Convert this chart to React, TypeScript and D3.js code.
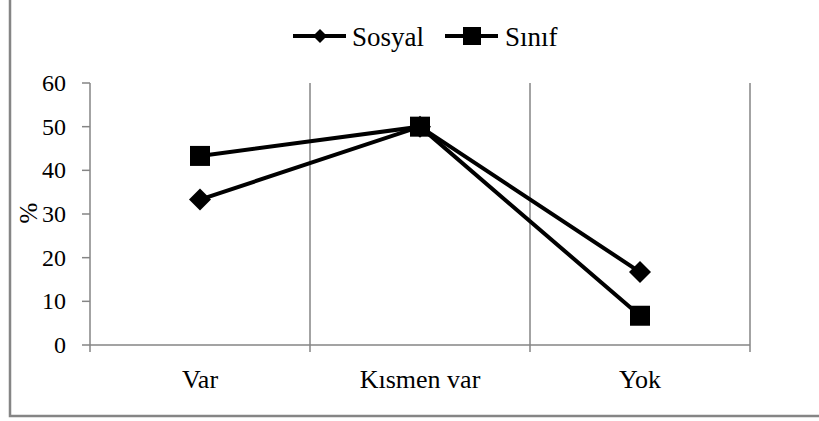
import React from "react";
import * as d3 from "d3";

const categories = ["Var", "Kısmen var", "Yok"];
const sosyal = [33.3, 50, 16.7];
const sinif = [43.3, 50, 6.7];
const yTicks = [0, 10, 20, 30, 40, 50, 60];

const W = 819;
const H = 421;
const left = 90;
const right = 750;
const top = 83;
const bottom = 345;

const font = "'Liberation Serif', 'Times New Roman', serif";
const gray = "#858585";

const x = d3.scaleBand().domain(categories).range([left, right]);
const y = d3.scaleLinear().domain([0, 60]).range([bottom, top]);
const mid = (c: string) => (x(c) as number) + x.bandwidth() / 2;
const line = d3
  .line<number>()
  .x((d, i) => mid(categories[i]))
  .y((d) => y(d));

const Diamond = ({ cx, cy, r }: { cx: number; cy: number; r: number }) => (
  <path d={`M${cx},${cy - r}L${cx + r},${cy}L${cx},${cy + r}L${cx - r},${cy}Z`} fill="#000" />
);

const Square = ({ cx, cy, s }: { cx: number; cy: number; s: number }) => (
  <rect x={cx - s / 2} y={cy - s / 2} width={s} height={s} fill="#000" />
);

export default function App() {
  const bounds = x.domain().map((c) => (x(c) as number) + x.bandwidth());
  return (
    <div style={{ position: "absolute", left: 0, top: 0 }}>
      <svg width={W} height={H} style={{ display: "block", background: "#fff" }}>
        {/* frame */}
        <rect x={10} y={-10} width={830} height={426} fill="none" stroke={gray} strokeWidth={2.5} />

        {/* gridlines at category boundaries */}
        {bounds.map((b) => (
          <line key={b} x1={b} x2={b} y1={top} y2={bottom + 7} stroke={gray} strokeWidth={1.5} />
        ))}

        {/* y axis */}
        <line x1={left} x2={left} y1={top} y2={bottom + 7} stroke={gray} strokeWidth={1.5} />
        {yTicks.map((t) => (
          <g key={t}>
            <line x1={left - 8} x2={left} y1={y(t)} y2={y(t)} stroke={gray} strokeWidth={1.5} />
            <text x={66} y={y(t) + 8} textAnchor="end" fontFamily={font} fontSize={24} fill="#000">
              {t}
            </text>
          </g>
        ))}
        <text
          transform={`translate(37,213) rotate(-90)`}
          textAnchor="middle"
          fontFamily={font}
          fontSize={25}
          fill="#000"
        >
          %
        </text>

        {/* x axis */}
        <line x1={left} x2={right} y1={bottom} y2={bottom} stroke={gray} strokeWidth={1.5} />
        {categories.map((c) => (
          <text key={c} x={mid(c)} y={388} textAnchor="middle" fontFamily={font} fontSize={26} fill="#000">
            {c}
          </text>
        ))}

        {/* series */}
        <path d={line(sosyal) as string} fill="none" stroke="#000" strokeWidth={4} />
        <path d={line(sinif) as string} fill="none" stroke="#000" strokeWidth={4} />
        {sosyal.map((v, i) => (
          <Diamond key={"d" + i} cx={mid(categories[i])} cy={y(v)} r={11} />
        ))}
        {sinif.map((v, i) => (
          <Square key={"s" + i} cx={mid(categories[i])} cy={y(v)} s={20} />
        ))}

        {/* legend */}
        <line x1={293} x2={346} y1={36} y2={36} stroke="#000" strokeWidth={4} />
        <Diamond cx={320} cy={36} r={7} />
        <text x={352} y={46} fontFamily={font} fontSize={27} fill="#000">
          Sosyal
        </text>
        <line x1={445} x2={498} y1={36} y2={36} stroke="#000" strokeWidth={4} />
        <Square cx={472} cy={36} s={18} />
        <text x={505} y={46} fontFamily={font} fontSize={27} fill="#000">
          Sınıf
        </text>
      </svg>
    </div>
  );
}
